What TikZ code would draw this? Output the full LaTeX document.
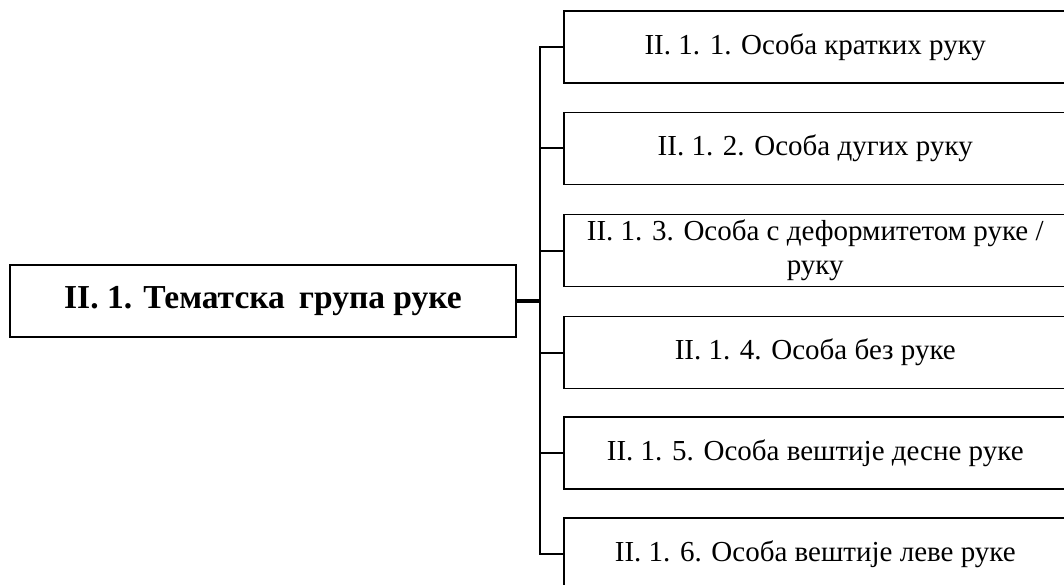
\documentclass[tikz,border=0pt]{standalone}
\usepackage{fontspec}
\setmainfont{Liberation Serif}
\begin{document}
\begin{tikzpicture}[x=1pt,y=-1pt,
  subbox/.style={draw,line width=1.5pt,rectangle,minimum width=503pt,minimum height=72pt,inner sep=0pt,align=center,font=\fontsize{29}{34}\selectfont,anchor=west},
  mainbox/.style={draw,line width=1.6pt,rectangle,minimum width=506pt,minimum height=72pt,inner sep=0pt,align=center,font=\fontsize{33.5}{36}\selectfont\bfseries},
  trunkline/.style={line width=2.6pt},
  branchline/.style={line width=2pt}]
\clip (0,0) rectangle (1064,585);
\fill[white] (0,0) rectangle (1064,585);
\node[mainbox] (main) at (263,301) {II. 1. Тематска\, група руке};
\node[subbox] (b1) at (563,47) {II. 1. 1. Особа кратких руку};
\node[subbox] (b2) at (563,148.5) {II. 1. 2. Особа дугих руку};
\node[subbox] (b3) at (563,250.5) {II. 1. 3. Особа с деформитетом руке /\\руку};
\node[subbox] (b4) at (563,352.5) {II. 1. 4. Особа без руке};
\node[subbox] (b5) at (563,453) {II. 1. 5. Особа вештије десне руке};
\node[subbox] (b6) at (563,554) {II. 1. 6. Особа вештије леве руке};
\coordinate (trunk) at (540,301);
\draw[trunkline] (b1.west) -- (b1.west -| trunk) -- (b6.west -| trunk) -- (b6.west);
\foreach \b in {b2,b3,b4,b5} \draw[branchline] (\b.west) -- (\b.west -| trunk);
\draw[line width=4pt] (main.east) -- (trunk);
\end{tikzpicture}
\end{document}
